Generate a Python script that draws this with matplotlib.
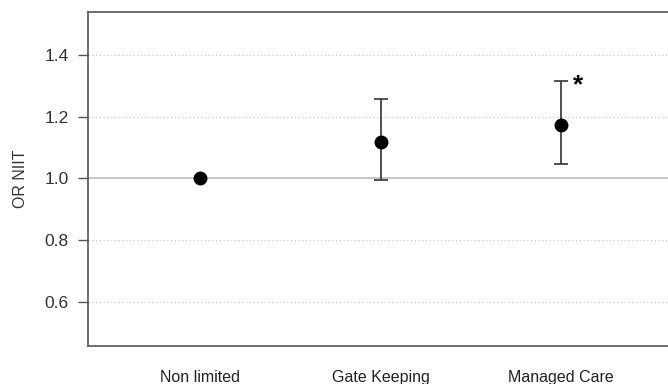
import matplotlib.pyplot as plt

plt.rcParams['font.family'] = ['Liberation Sans', 'DejaVu Sans']

groups = ["Non limited", "Gate Keeping", "Managed Care"]
odds_ratio = [1.0, 1.118, 1.174]
ci_low = [None, 0.995, 1.048]
ci_high = [None, 1.258, 1.315]
significant = [False, False, True]

x_pos = [1, 2, 3]

fig = plt.figure(figsize=(6.68, 3.84), dpi=100)
ax = fig.add_axes([88 / 668, 1 - 346 / 384, 585 / 668, 334 / 384])

# reference grid lines
for g in [0.6, 0.8, 1.2, 1.4]:
    ax.axhline(g, color='#c8c8c8', lw=0.9, ls=(0, (1, 2)), zorder=0)
ax.axhline(1.0, color='#bdbdbd', lw=1.2, zorder=0)

for i in range(len(groups)):
    if ci_low[i] is not None:
        ax.errorbar(x_pos[i], odds_ratio[i],
                    yerr=[[odds_ratio[i] - ci_low[i]], [ci_high[i] - odds_ratio[i]]],
                    fmt='none', ecolor='#333333', elinewidth=1.2, capsize=5, capthick=1.2, zorder=2)
    ax.plot(x_pos[i], odds_ratio[i], 'o', color='black', markersize=9, zorder=3)
    if significant[i]:
        ax.annotate('*', (x_pos[i], ci_high[i]), xytext=(12, -3), textcoords='offset points',
                    fontsize=19, fontweight='bold', color='black', ha='center', va='center')

ax.set_xlim(0.38, 3.62)
ax.set_ylim(0.4575, 1.539)
ax.set_yticks([0.6, 0.8, 1.0, 1.2, 1.4])
ax.set_yticklabels(['0.6', '0.8', '1.0', '1.2', '1.4'])
ax.set_xticks(x_pos)
ax.set_xticklabels(groups)
ax.tick_params(axis='x', length=0, pad=17, labelsize=11.5, labelcolor='#222222')
ax.tick_params(axis='y', length=7, width=1, color='#555555', pad=7, labelsize=12.5, labelcolor='#333333')
ax.set_ylabel("OR NIIT", fontsize=11.5, color='#333333', labelpad=12)

for side in ['left', 'top', 'bottom']:
    ax.spines[side].set_color('#555555')
    ax.spines[side].set_linewidth(1.2)
ax.spines['right'].set_visible(False)

plt.savefig('out.png', dpi=100)
